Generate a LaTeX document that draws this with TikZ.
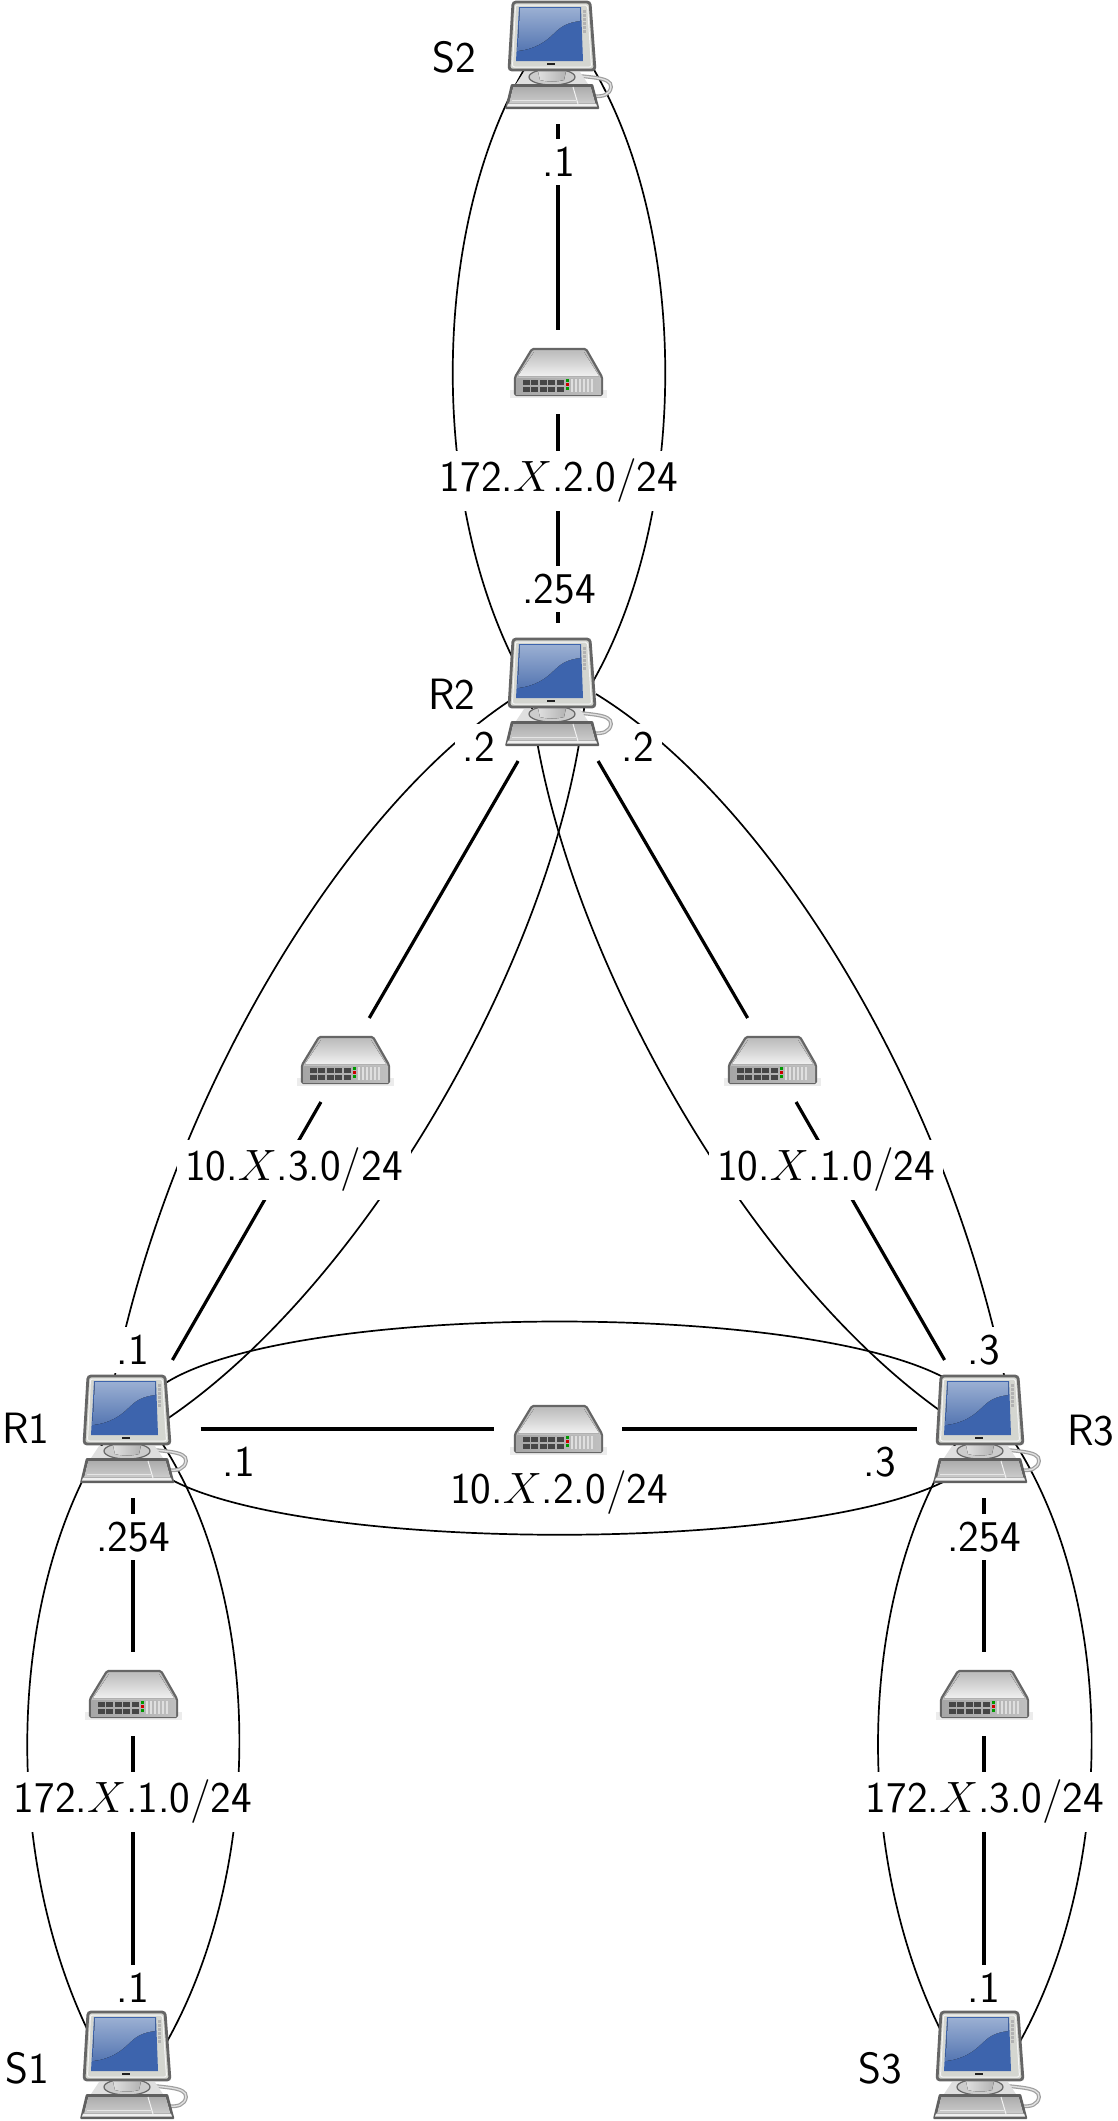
\RequirePackage{fix-cm}
\documentclass[tikz,border=0pt]{standalone}
\usetikzlibrary{calc}
\definecolor{scr}{HTML}{3D64AD}
\definecolor{scrhi}{HTML}{9AAFD2}
\definecolor{scrlo}{HTML}{5576B2}
\definecolor{frame}{HTML}{D4D6D0}
\definecolor{edge}{HTML}{666666}
\tikzset{
  pcbox/.style={rectangle,minimum width=107bp,minimum height=110bp,inner sep=0pt,outer sep=14bp},
  swbox/.style={rectangle,minimum width=94bp,minimum height=50bp,inner sep=0pt,outer sep=17bp},
  lbl/.style={fill=white,inner sep=8bp,font=\sffamily\fontsize{44}{52}\selectfont},
  bare/.style={inner sep=0pt,font=\sffamily\fontsize{44}{52}\selectfont},
  thick link/.style={line width=3.2bp},
  thin link/.style={line width=1.7bp},
  pics/pc/.style={code={
    % cable
    \draw[line width=3.8bp,color=gray!75,line cap=round] (88,74) .. controls (105,78) and (132,76) .. (131,87) .. controls (130,95) and (122,97) .. (114,96);
    \draw[line width=1.4bp,color=gray!25,line cap=round] (88,74) .. controls (105,78) and (132,76) .. (131,87) .. controls (130,95) and (122,97) .. (114,96);
    % stand
    \fill[gray!25] (44,72) -- (100,72) -- (108,84) -- (36,84) -- cycle;
    \draw[line width=1.2bp,edge,fill=gray!40] (72,77) ellipse (23 and 8);
    \fill[left color=gray!25,right color=gray!60] (58,71) -- (86,71) -- (84,80) .. controls (76,82) and (68,82) .. (60,80) -- cycle;
    % monitor
    \draw[line width=2.8bp,edge,fill=frame,rounded corners=3bp] (33,2) -- (110,2) -- (115,70) -- (29,70) -- cycle;
    \draw[line width=1bp,color=gray!8,rounded corners=2bp] (35.5,5) -- (107.5,5) -- (111.5,67) -- (32.5,67) -- cycle;
    \fill[scr] (39,7) -- (101,7) -- (103,61) -- (36,61) -- cycle;
    \fill[top color=scrhi,bottom color=scrlo] (40,8) -- (100,8) -- (100,21) .. controls (82,23) and (78,30) .. (70,37) .. controls (60,46) and (48,50) .. (37.5,51) -- cycle;
    \foreach \yy in {10,14,18,22,26,30}{\fill[gray!60] (103,\yy) rectangle (106,\yy+2.6);}
    \fill[gray!25!black] (67,62.5) rectangle (75,64.5);
    % keyboard
    \fill[color=gray!75!black,rounded corners=1bp] (31,84) -- (113,84) -- (119.5,109) -- (25,109) -- cycle;
    \fill[top color=gray!65,bottom color=gray!40] (33,87) -- (111,87) -- (115.5,103.5) -- (29,103.5) -- cycle;
    \fill[gray!12] (28,103.5) -- (116,103.5) -- (117,106.5) -- (27,106.5) -- cycle;
    \draw[line width=1bp,gray!10] (93,87) -- (98,104);
    \draw[line width=.6bp,gray!20] (32,100) -- (96,100);
  }},
  pics/sw/.style={code={
    \fill[gray!15] (10,58) rectangle (107,66);
    \draw[line width=2.2bp,edge,fill=gray!50,line join=round,rounded corners=1.5bp] (32,17) -- (86,17) -- (102,45) -- (102,63) -- (15,63) -- (15,45) -- cycle;
    \fill[top color=gray!50,bottom color=gray!12] (34,20) -- (84,20) -- (99,44) -- (18,44) -- cycle;
    \fill[left color=gray!70,right color=gray!50] (16,46) rectangle (101,62);
    \foreach \xx in {23,31,40,48,57}{
      \fill[gray!55!black] (\xx,47.5) rectangle (\xx+6.5,52.5);
      \fill[gray!55!black] (\xx,54.5) rectangle (\xx+6.5,59.5);
    }
    \fill[green!60!black] (65.5,47) rectangle (68.5,50);
    \fill[red!80!black] (65.5,51) rectangle (68.5,54);
    \fill[green!60!black] (65.5,55) rectangle (68.5,58);
    \foreach \xx in {71,75,79,83,87,91}{\fill[gray!25] (\xx,47) rectangle (\xx+2.2,60);}
  }}
}
\begin{document}
\begin{tikzpicture}[x=1bp,y=-1bp]
\useasboundingbox (0,0) rectangle (1117,2121);
\fill[white] (0,0) rectangle (1117,2121);
% anchor nodes of the devices
\node[pcbox] (S2) at (558,55) {};
\node[pcbox] (R2) at (558,692) {};
\node[pcbox] (R1) at (133,1429) {};
\node[pcbox] (R3) at (984,1429) {};
\node[pcbox] (S1) at (133,2065) {};
\node[pcbox] (S3) at (984,2065) {};
\node[swbox] (w2) at (558,372) {};
\node[swbox] (w3) at (345,1060) {};
\node[swbox] (w1) at (772,1060) {};
\node[swbox] (wc) at (558,1429) {};
\node[swbox] (wa) at (133,1694) {};
\node[swbox] (wb) at (984,1694) {};
% thin links
\begin{scope}[thin link]
\draw ([shift={(-25,0)}]S2.center) .. controls (427,220) and (425,520) .. ([shift={(-25,3)}]R2.center);
\draw ([shift={(27,0)}]S2.center) .. controls (691,220) and (693,520) .. ([shift={(27,3)}]R2.center);
\draw ([shift={(-38,2)}]R2.center) .. controls (350,800) and (172,1090) .. ([shift={(-19,-49)}]R1.center);
\draw ([shift={(38,2)}]R2.center) .. controls (769,800) and (947,1090) .. ([shift={(21,-49)}]R3.center);
\draw ([shift={(27,8)}]R2.center) .. controls (560,950) and (360,1300) .. ([shift={(17,1)}]R1.center);
\draw ([shift={(-27,8)}]R2.center) .. controls (559,950) and (759,1300) .. ([shift={(-15,1)}]R3.center);
\draw ([shift={(17,-34)}]R1.center) .. controls (250,1297) and (869,1297) .. ([shift={(-15,-34)}]R3.center);
\draw ([shift={(17,36)}]R1.center) .. controls (250,1558) and (869,1558) .. ([shift={(-15,36)}]R3.center);
\draw ([shift={(-28,11)}]R1.center) .. controls (4,1600) and (4,1860) .. ([shift={(-43,-30)}]S1.center);
\draw ([shift={(27,11)}]R1.center) .. controls (265,1600) and (265,1870) .. ([shift={(32,-20)}]S1.center);
\draw ([shift={(-26,11)}]R3.center) .. controls (854,1600) and (854,1860) .. ([shift={(-41,-30)}]S3.center);
\draw ([shift={(29,11)}]R3.center) .. controls (1117,1600) and (1117,1870) .. ([shift={(34,-20)}]S3.center);
\end{scope}
% thick links
\begin{scope}[thick link]
\draw (S2) -- (w2);
\draw (w2) -- (R2);
\draw (R2) -- (w3);
\draw (w3) -- (R1);
\draw (R2) -- (w1);
\draw (w1) -- (R3);
\draw (R1) -- (wc);
\draw (wc) -- (R3);
\draw (R1) -- (wa);
\draw (wa) -- (S1);
\draw (R3) -- (wb);
\draw (wb) -- (S3);
\end{scope}
% labels
\node[lbl] (a1) at (559,162) {.1};
\node[lbl] (n2) at (559,481) {172.$X$.2.0/24};
\node[lbl] (a2) at (559,589) {.254};
\node[lbl] (a3) at (479,747) {.2};
\node[lbl] (a4) at (638,747) {.2};
\node[lbl] (n3) at (294,1170) {10.$X$.3.0/24};
\node[lbl] (n4) at (826,1170) {10.$X$.1.0/24};
\node[lbl,inner xsep=14bp] (a5) at (133,1350) {.1};
\node[lbl,inner xsep=14bp] (a6) at (984,1350) {.3};
\node[lbl] (a7) at (239,1462) {.1};
\node[lbl] (a8) at (880,1462) {.3};
\node[lbl] (n5) at (559,1493) {10.$X$.2.0/24};
\node[lbl] (a9) at (133,1537) {.254};
\node[lbl] (a10) at (984,1537) {.254};
\node[lbl] (n6) at (133,1802) {172.$X$.1.0/24};
\node[lbl] (n7) at (985,1802) {172.$X$.3.0/24};
\node[lbl] (a11) at (133,1988) {.1};
\node[lbl] (a12) at (984,1988) {.1};
\node[bare] (t1) at (454,57) {S2};
\node[bare] (t2) at (452,694) {R2};
\node[bare] (t3) at (26,1428) {R1};
\node[bare] (t4) at (1091,1431) {R3};
\node[bare] (t5) at (27,2068) {S1};
\node[bare] (t6) at (880,2068) {S3};
% device drawings
\pic at (480,0) {pc};
\pic at (480,637) {pc};
\pic at (55,1374) {pc};
\pic at (908,1374) {pc};
\pic at (55,2010) {pc};
\pic at (908,2010) {pc};
\pic at (500,332) {sw};
\pic at (287,1020) {sw};
\pic at (714,1020) {sw};
\pic at (500,1389) {sw};
\pic at (75,1654) {sw};
\pic at (926,1654) {sw};
\end{tikzpicture}
\end{document}
